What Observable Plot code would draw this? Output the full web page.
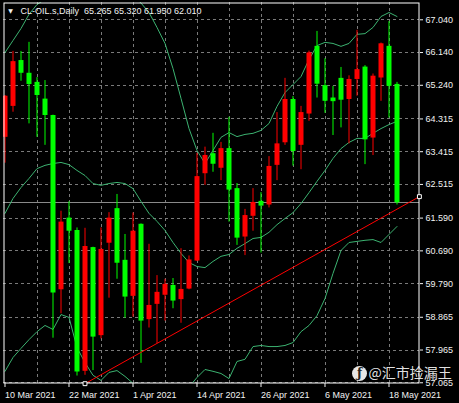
<!DOCTYPE html>
<html>
<head>
<meta charset="utf-8">
<script src="https://cdn.jsdelivr.net/npm/d3@7"></script>
<script src="https://cdn.jsdelivr.net/npm/@observablehq/plot@0.6"></script>
<style>
  html, body { margin: 0; padding: 0; background: #000; }
  #chart { width: 459px; height: 403px; }
</style>
</head>
<body>
<div id="chart"></div>
<script>
// Daily crude oil CFD candles with 20-day Bollinger Bands and a rising support line.
const symbol = "CL-OIL.s,Daily";

const dates = [
  "2021-03-10","2021-03-11","2021-03-12","2021-03-15","2021-03-16","2021-03-17","2021-03-18","2021-03-19",
  "2021-03-22","2021-03-23","2021-03-24","2021-03-25","2021-03-26","2021-03-29","2021-03-30","2021-03-31",
  "2021-04-01","2021-04-05","2021-04-06","2021-04-07","2021-04-08","2021-04-09","2021-04-12","2021-04-13",
  "2021-04-14","2021-04-15","2021-04-16","2021-04-19","2021-04-20","2021-04-21","2021-04-22","2021-04-23",
  "2021-04-26","2021-04-27","2021-04-28","2021-04-29","2021-04-30","2021-05-03","2021-05-04","2021-05-05",
  "2021-05-06","2021-05-07","2021-05-10","2021-05-11","2021-05-12","2021-05-13","2021-05-14","2021-05-17",
  "2021-05-18","2021-05-19"
];

const open = [63.81, 64.66, 65.92, 65.57, 65.32, 64.86, 64.41, 59.62, 61.59, 61.25,
              57.38, 60.78, 58.36, 60.90, 61.85, 60.43, 59.44, 61.42, 58.80, 59.22,
              59.47, 59.74, 59.35, 59.64, 60.41, 62.81, 63.36, 62.96, 63.50, 62.40,
              61.07, 61.64, 62.05, 61.95, 63.04, 63.66, 64.85, 63.59, 64.45, 66.31,
              65.23, 64.89, 65.43, 64.85, 65.40, 65.74, 63.79, 65.44, 66.31, 65.265];
const high = [64.96, 66.17, 66.17, 66.42, 65.45, 65.37, 64.42, 61.78, 62.04, 61.32,
              61.31, 60.79, 61.32, 61.74, 62.24, 61.14, 61.73, 61.43, 60.87, 60.01,
              59.91, 59.93, 60.75, 60.55, 63.37, 63.54, 63.92, 63.67, 64.36, 62.54,
              61.83, 62.40, 62.29, 63.28, 64.49, 65.43, 64.93, 64.66, 66.18, 66.72,
              65.97, 65.21, 65.73, 65.50, 66.75, 65.78, 65.55, 66.40, 66.99, 65.320];
const low = [63.10, 64.50, 65.35, 64.18, 63.81, 63.59, 58.29, 58.96, 60.34, 57.25,
             57.27, 57.40, 58.27, 59.39, 59.91, 58.84, 58.87, 57.60, 58.57, 58.14,
             58.76, 59.10, 58.70, 59.62, 60.40, 62.49, 62.85, 62.62, 61.48, 60.84,
             60.56, 61.23, 60.63, 61.87, 62.62, 63.59, 63.02, 62.92, 64.25, 64.89,
             64.47, 63.86, 64.07, 63.63, 64.94, 63.06, 63.31, 64.80, 64.34, 61.950];
const close = [64.94, 65.89, 65.57, 65.26, 64.96, 64.41, 59.53, 61.48, 61.23, 57.36,
               60.81, 58.32, 60.73, 61.59, 60.35, 59.42, 61.23, 58.76, 59.19, 59.55,
               59.77, 59.31, 59.63, 60.44, 62.73, 63.31, 63.07, 63.50, 62.36, 61.04,
               61.66, 62.02, 61.92, 63.01, 63.63, 64.85, 63.42, 64.49, 66.13, 65.27,
               64.80, 64.79, 64.83, 65.40, 65.67, 63.74, 65.49, 66.38, 65.21, 62.010];

const bbUpper = [66.14, 66.47, 66.80, 67.19, 67.46, 67.60, 67.80, 67.90, 67.95, 68.10,
                 68.20, 68.20, 68.15, 67.95, 67.85, 67.80, 67.70, 67.50, 67.24, 66.83,
                 66.39, 65.70, 64.88, 64.05, 63.45, 63.09, 63.45, 63.81, 63.94, 63.83,
                 63.89, 63.92, 64.00, 64.19, 64.66, 65.04, 65.26, 65.48, 65.95, 66.33,
                 66.42, 66.39, 66.31, 66.39, 66.64, 66.66, 66.83, 67.13, 67.24, 67.13];
const bbMiddle = [61.72, 62.13, 62.43, 62.68, 62.95, 63.04, 63.09, 63.12, 63.06, 62.90,
                  62.76, 62.54, 62.49, 62.54, 62.57, 62.54, 62.40, 62.05, 61.72, 61.50,
                  61.25, 60.92, 60.62, 60.37, 60.26, 60.23, 60.40, 60.54, 60.59, 60.76,
                  60.89, 61.03, 61.06, 61.20, 61.41, 61.58, 61.74, 61.99, 62.29, 62.60,
                  62.90, 63.23, 63.50, 63.67, 63.78, 63.78, 63.92, 64.05, 64.16, 64.25];
const bbLower = [57.38, 57.76, 58.01, 58.25, 58.47, 58.64, 58.53, 58.94, 58.86, 58.03,
                 57.62, 57.27, 57.13, 57.35, 57.40, 57.24, 57.05, 56.80, 56.55, 56.40,
                 56.35, 56.40, 56.60, 56.95, 57.21, 57.43, 57.38, 57.32, 57.18, 57.65,
                 57.71, 58.06, 58.09, 58.06, 58.06, 58.09, 58.17, 58.47, 58.64, 58.91,
                 59.38, 60.07, 60.70, 60.92, 60.95, 60.98, 61.00, 60.92, 61.14, 61.36];

// price scale labels and date labels (by bar number)
const priceTicks = [67.040, 66.140, 65.240, 64.315, 63.415, 62.515, 61.590, 60.690, 59.790, 58.865, 57.965, 57.065];
const dateTickBars = [0, 8, 16, 24, 32, 40, 48];
const gridBars = [4, 8, 12, 16, 20, 24, 28, 32, 36, 40, 44, 48];

// support line anchors: bar number and price
const trendBars = [10, 51.8];
const trendPrices = [57.04, 62.18];

const watermark = "@汇市捡漏王";

const UP = "#ff0000", DOWN = "#00ff00", BAND = "#3cb371", GRID = "#7a7a7a";
const last = dates.length - 1;
const fmtDate = d3.utcFormat("%-d %b %Y");

const candles = dates.map((d, i) => ({
  i, o: open[i], h: high[i], l: low[i], c: close[i],
  color: close[i] >= open[i] ? UP : DOWN
}));
const trend = trendBars.map((b, k) => ({b, p: trendPrices[k]}));
const title = `${symbol}  ${[open[last], high[last], low[last], close[last]].map(v => v.toFixed(3)).join(" ")}`;

const chart = Plot.plot({
  width: 459,
  height: 403,
  marginLeft: 3,
  marginRight: 40,
  marginTop: 2,
  marginBottom: 20,
  style: {background: "#000", color: "#f2f2f2", fontFamily: "'Liberation Sans', Arial, sans-serif", fontSize: "9px"},
  x: {domain: [-0.1875, 51.8125]},
  y: {domain: [57.045, 67.515]},
  color: {type: "identity"},
  marks: [
    Plot.gridY(priceTicks, {stroke: GRID, strokeOpacity: 1, strokeDasharray: "3,3", shapeRendering: "crispEdges"}),
    Plot.gridX(gridBars, {stroke: GRID, strokeOpacity: 1, strokeDasharray: "3,3", shapeRendering: "crispEdges"}),
    Plot.ruleY([close[last]], {stroke: "#8a8a8a", shapeRendering: "crispEdges"}),
    Plot.lineY(bbUpper, {stroke: BAND, strokeWidth: 1, clip: true}),
    Plot.lineY(bbMiddle, {stroke: BAND, strokeWidth: 1, clip: true}),
    Plot.lineY(bbLower, {stroke: BAND, strokeWidth: 1, clip: true}),
    Plot.ruleX(candles, {x: "i", y1: "l", y2: "h", stroke: "color", strokeWidth: 1, clip: true}),
    Plot.ruleX(candles, {x: "i", y1: "o", y2: "c", stroke: "color", strokeWidth: 5, clip: true}),
    Plot.line(trend, {x: "b", y: "p", stroke: "#ff0000", strokeWidth: 1}),
    Plot.frame({stroke: "#ffffff", inset: 0.5}),
    Plot.dot(trend, {x: "b", y: "p", symbol: "square", r: 2.2, stroke: "#ffffff", fill: "#000", strokeWidth: 1}),
    Plot.axisY(priceTicks, {anchor: "right", tickSize: 3, tickPadding: 3, tickFormat: d => d.toFixed(3), fontSize: 9}),
    Plot.axisX(dateTickBars, {anchor: "bottom", tickSize: 4, tickPadding: 4, textAnchor: "start",
      tickFormat: i => fmtDate(new Date(dates[i])), fontSize: 9}),
    Plot.text([close[last]], {y: d => d, frameAnchor: "right", dx: 6, textAnchor: "start",
      text: d => d.toFixed(3), fill: "#000", fontSize: 9, ariaLabel: "price-tag"}),
    Plot.text(["▼"], {frameAnchor: "top-left", dx: 7, dy: 9, textAnchor: "middle", lineAnchor: "middle",
      fill: "#f2f2f2", fontSize: 6, fontFamily: "DejaVu Sans"}),
    Plot.text([title], {frameAnchor: "top-left", dx: 17, dy: 5, textAnchor: "start", lineAnchor: "top",
      fill: "#f2f2f2", fontSize: 9}),
    // account watermark over the lower-right corner
    Plot.dot([watermark], {frameAnchor: "bottom-left", dx: 356, dy: -10, r: 7.5, fill: "#ffffff", fillOpacity: 0.9}),
    Plot.text(["ƒ"], {frameAnchor: "bottom-left", dx: 356, dy: -10, textAnchor: "middle", lineAnchor: "middle",
      fill: "#222", fontSize: 12, fontWeight: "bold", fontFamily: "DejaVu Serif"}),
    Plot.text([watermark], {frameAnchor: "bottom-left", dx: 365, dy: -10, textAnchor: "start", lineAnchor: "middle",
      fill: "#ffffff", fillOpacity: 0.9, fontSize: 14, fontFamily: "'Noto Sans CJK SC', sans-serif"})
  ]
});

document.getElementById("chart").append(chart);

// white backing box behind the last-price label on the price scale
const tag = d3.select(chart).select('g[aria-label="price-tag"]');
const tagText = tag.select("text").node();
if (tagText) {
  const bb = tagText.getBBox();
  const cy = bb.y + bb.height / 2;
  tag.insert("rect", "text")
    .attr("x", bb.x - 4.5)
    .attr("y", cy - 4.5)
    .attr("width", 459 - (bb.x - 4.5))
    .attr("height", 9)
    .attr("fill", "#ffffff");
}
</script>
</body>
</html>
